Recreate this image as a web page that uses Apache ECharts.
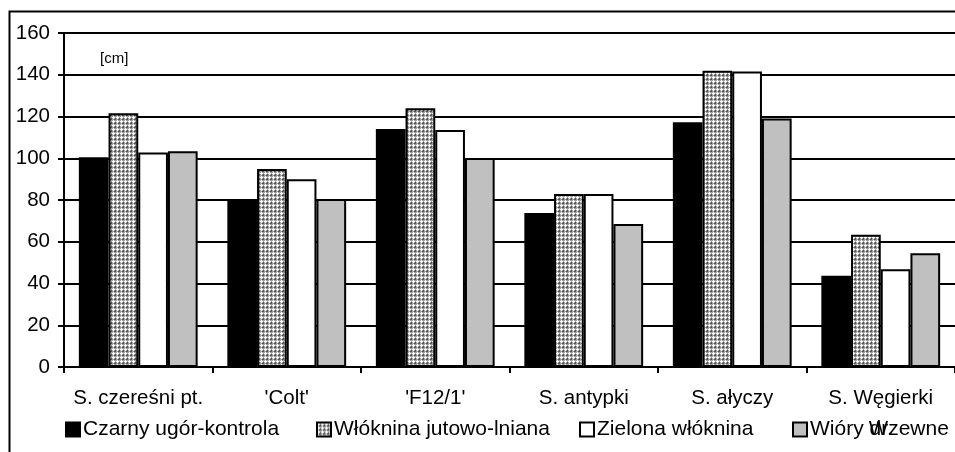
<!DOCTYPE html>
<html>
<head>
<meta charset="utf-8">
<script src="https://cdn.jsdelivr.net/npm/echarts@6/dist/echarts.min.js"></script>
<style>
  html, body { margin: 0; padding: 0; background: #fff; overflow: hidden; }
  #chart { width: 955px; height: 452px; }
</style>
</head>
<body>
<div id="chart"></div>
<script>
// Plant height by rootstock and mulch treatment
const categories = ["S. czereśni pt.", "'Colt'", "'F12/1'", "S. antypki", "S. ałyczy", "S. Węgierki\nW."];
const seriesNames = ["Czarny ugór-kontrola", "Włóknina jutowo-lniana", "Zielona włóknina", "Wióry drzewne"];
const czarnyUgor   = [100.5,  80.3, 114.0,  73.8, 117.2, 43.7];
const wloknJutowa  = [121.5,  94.9, 124.0,  82.9, 141.9, 63.4];
const zielonaWlokn = [102.7,  89.9, 113.5,  82.9, 141.5, 46.8];
const wioryDrzewne = [103.3,  80.5, 100.1,  68.5, 119.1, 54.5];
const yTicks = { min: 0, max: 160, step: 20 };

// Small repeating tile for the jute/linen fabric fill
function makeHatch() {
  const c = document.createElement('canvas');
  c.width = 4; c.height = 4;
  const g = c.getContext('2d');
  g.fillStyle = '#a0a0a0';
  g.fillRect(0, 0, 4, 4);
  g.fillStyle = '#ffffff';
  [[1,0],[0,1],[1,1],[2,1],[1,2]].forEach(p => g.fillRect(p[0], p[1], 1, 1));
  g.fillStyle = '#555555';
  [[3,3],[3,2],[2,3]].forEach(p => g.fillRect(p[0], p[1], 1, 1));
  return c;
}

const fills = ['#000000', { image: makeHatch(), repeat: 'repeat' }, '#ffffff', '#c0c0c0'];
const values = [czarnyUgor, wloknJutowa, zielonaWlokn, wioryDrzewne];
const legendLeft = [65, 316, 579, 792];
const font = 'Liberation Sans, Arial, sans-serif';

const chart = echarts.init(document.getElementById('chart'), null, { renderer: 'canvas' });

chart.setOption({
  animation: false,
  backgroundColor: '#ffffff',
  grid: { left: 64, top: 33, bottom: 85, right: -9 },
  graphic: [
    { type: 'rect', z: -10, silent: true,
      shape: { x: 9.5, y: 11.5, width: 2000, height: 2000 },
      style: { fill: 'none', stroke: '#000', lineWidth: 2 } },
    { type: 'text', left: 100, top: 51,
      style: { text: '[cm]', fontSize: 15, fontFamily: font, fill: '#000' } }
  ],
  legend: seriesNames.map((n, i) => ({
    data: [n],
    left: legendLeft[i],
    top: 419,
    padding: 0,
    itemWidth: 14,
    itemHeight: 14,
    icon: 'rect',
    selectedMode: false,
    textStyle: { fontFamily: font, fontSize: 21, color: '#000', padding: [0, 0, 0, -2] }
  })),
  xAxis: {
    type: 'category',
    data: categories,
    axisLine: { lineStyle: { color: '#000', width: 2 } },
    axisTick: { show: true, length: 6, lineStyle: { color: '#000', width: 2 } },
    axisLabel: { fontFamily: font, fontSize: 20.5, color: '#000', margin: 16, lineHeight: 31, interval: 0 },
    splitLine: { show: false }
  },
  yAxis: {
    type: 'value',
    min: yTicks.min, max: yTicks.max, interval: yTicks.step,
    axisLine: { show: true, lineStyle: { color: '#000', width: 2 } },
    axisTick: { show: true, length: 6, lineStyle: { color: '#000', width: 2 } },
    axisLabel: { fontFamily: font, fontSize: 20.5, color: '#000', margin: 14 },
    splitLine: { show: true, lineStyle: { color: '#000', width: 2 } }
  },
  series: seriesNames.map((n, i) => ({
    name: n,
    type: 'bar',
    data: values[i],
    barGap: '0%',
    barCategoryGap: '20%',
    itemStyle: { color: fills[i], borderColor: '#000', borderWidth: 2 }
  }))
});
</script>
</body>
</html>
